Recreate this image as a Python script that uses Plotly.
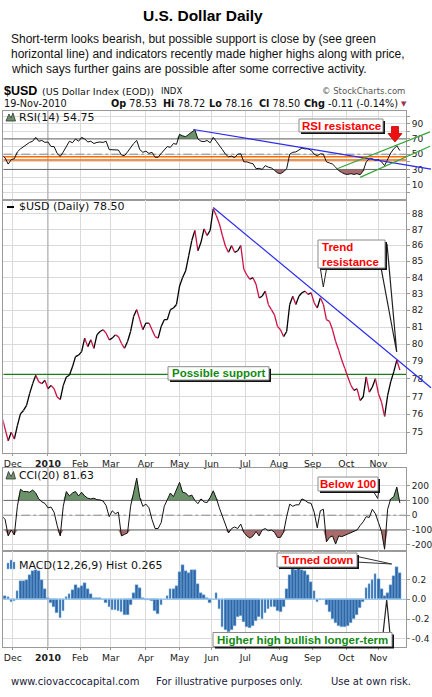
import numpy as np
import pandas as pd
import plotly.graph_objects as go

W, H = 432, 697

# ------------------------------------------------------------------ data
trading_days = pd.bdate_range("2009-11-19", "2010-11-19")
sample_dates = trading_days[1::2]          # every other trading day

usd_close = [
    75.83, 75.18, 74.54, 75.00, 74.63, 75.37, 76.02, 76.21, 76.49, 77.15,
    77.72, 78.20, 77.82, 77.72, 77.91, 77.43, 77.62, 77.43, 76.96, 76.82,
    77.62, 78.10, 78.20, 78.68, 79.27, 79.36, 79.56, 80.35, 79.85, 80.25,
    79.75, 80.54, 80.74, 80.84, 80.64, 80.25, 80.35, 80.54, 80.44, 80.05,
    79.75, 80.15, 80.74, 81.64, 82.04, 81.44, 80.84, 81.24, 81.24, 80.84,
    80.44, 80.35, 81.04, 81.44, 81.44, 82.04, 82.14, 82.35, 83.47, 83.99,
    84.40, 85.34, 86.29, 86.93, 85.65, 86.18, 87.03, 86.61, 86.93, 88.32,
    87.89, 87.36, 86.61, 85.93, 85.55, 85.97, 85.55, 85.65, 85.97, 84.50,
    84.14, 83.88, 83.98, 83.57, 82.75, 82.85, 83.16, 82.35, 82.04, 81.74,
    81.04, 80.84, 80.44, 80.74, 82.35, 82.85, 82.35, 82.85, 83.06, 83.16,
    82.96, 83.06, 82.45, 82.14, 82.75, 82.35, 81.44, 81.34, 80.84, 80.15,
    79.65, 79.07, 78.59, 78.10, 77.62, 77.34, 77.43, 76.77, 76.96, 78.10,
    77.24, 77.53, 78.00, 77.15, 76.68, 75.88, 77.05, 77.82, 78.39, 79.07,
    78.50,
]

rsi_14 = [
    49, 45, 37, 43, 44, 53, 57, 60, 63, 65.5,
    67, 72, 67, 68, 65.5, 66, 60, 60, 51, 47,
    53, 61, 67, 65, 70, 67, 72, 70, 66, 67,
    64, 65.5, 66, 65.5, 67, 56, 56, 56, 55.5, 49,
    48, 53, 59, 64, 68, 56, 52.5, 54, 51, 52.5,
    46, 46, 51, 56, 60, 59, 64, 63, 76, 74,
    73, 76, 79, 82, 70, 67, 66.5, 68, 65, 72,
    67, 62, 56, 50, 46.5, 47.5, 45.5, 50, 50.5, 40,
    40, 38.5, 37.5, 31, 31.5, 30, 35, 33, 32, 29,
    25.5, 24.5, 27, 31, 50, 52.5, 53, 55.5, 58, 57,
    57, 55, 50, 48, 50.5, 50, 40, 38.5, 37, 33,
    28.5, 26, 24, 23.5, 24.5, 23.5, 24.5, 23, 28, 40,
    44, 44, 42, 43, 40, 35, 44, 51.5, 57, 61,
    54.75,
]

cci_20 = [
    -5, -30, -140, -100, -134, 60, 175, 160, 160, 155,
    170, 150, 110, 90, 80, 50, 55, 20, -70, -140,
    60, 160, 130, 150, 160, 130, 155, 130, 115, 110,
    115, 105, 103, 96, 65, -10, 30, 10, 20, -140,
    -130, -120, 60, 150, 250, 120, 60, 75, 50, -30,
    -90, -90, -50, 60, 100, 150, 125, 170, 222, 155,
    150, 128, 136, 100, 78, 110, 90, 85, 120, 165,
    115, 50, -10, -70, -120, -90, -80, -90, -60, -115,
    -140, -155, -140, -110, -140, -100, -90, -105, -100, -115,
    -150, -150, -115, -10, 75, 60, 70, 70, 110, 100,
    85, 80, 20, -85, 30, 40, -180, -150, -140, -195,
    -140, -145, -135, -125, -115, -107, -100, -70, -45, -10,
    -15, 40, 10, -50, -110, -230, 40, 110, 125, 190,
    81.63,
]

macd_hist = [
    0.03, 0.034, 0.02, -0.024, -0.015, 0.08, 0.18, 0.185, 0.2, 0.25,
    0.285, 0.296, 0.29, 0.2, 0.1, 0.015, -0.04, -0.08, -0.14, -0.185,
    -0.12, 0.02, 0.05, 0.09, 0.14, 0.11, 0.13, 0.165, 0.1, 0.054,
    0.01, 0.01, 0.01, 0.003, -0.034, -0.08, -0.105, -0.108, -0.115, -0.13,
    -0.155, -0.16, -0.06, 0.06, 0.145, 0.11, 0.01, -0.01, -0.01, -0.02,
    -0.12, -0.145, -0.06, 0.004, 0.035, 0.1, 0.1, 0.13, 0.28, 0.345,
    0.29, 0.27, 0.3, 0.3, 0.15, 0.067, 0.04, 0.01, -0.04, 0.004,
    0.06, -0.1, -0.28, -0.31, -0.327, -0.31, -0.27, -0.18, -0.17, -0.23,
    -0.28, -0.29, -0.27, -0.22, -0.18, -0.2, -0.14, -0.095, -0.08, -0.08,
    -0.12, -0.13, -0.08, 0.1, 0.25, 0.31, 0.295, 0.303, 0.296, 0.285,
    0.25, 0.17, 0.08, -0.03, -0.005, 0.003, -0.06, -0.13, -0.2, -0.235,
    -0.265, -0.28, -0.28, -0.27, -0.24, -0.2, -0.158, -0.09, -0.03, 0.11,
    0.15, 0.2, 0.256, 0.21, 0.1, 0.03, 0.06, 0.145, 0.24, 0.33,
    0.265,
]

month_starts = ["2009-12-01", "2010-01-01", "2010-02-01", "2010-03-01",
                "2010-04-01", "2010-05-01", "2010-06-01", "2010-07-01",
                "2010-08-01", "2010-09-01", "2010-10-01", "2010-11-01"]
month_labels = ["Dec", "<b>2010</b>", "Feb", "Mar", "Apr", "May", "Jun",
                "Jul", "Aug", "Sep", "Oct", "Nov"]
price_ticks = list(range(75, 89))
rsi_ticks = list(range(0, 101, 10))
rsi_tick_labels = [str(v) if v in (10, 30, 50, 70, 90) else "" for v in rsi_ticks]
cci_ticks = [-200, -100, 0, 100, 200]
macd_ticks = [-0.4, -0.2, 0.0, 0.2]
macd_tick_labels = ["-0.4", "-0.2", "0.0", "0.2"]

support_level = 78.25
rsi_orange_levels = [46.6, 42.3]
price_trend = [("2010-06-02", 88.4), ("2010-11-19", 78.96)]
rsi_down_trend = [("2010-05-14", 82.4), ("2010-11-19", 37.2)]
rsi_channel_top = [("2010-09-23", 31.0), ("2010-11-19", 63.6)]
rsi_channel_bottom = [("2010-10-14", 19.6), ("2010-11-19", 42.8)]

# ------------------------------------------------------------------ layout geometry
LIB = "Liberation Sans, Arial, sans-serif"
DEJ = "DejaVu Sans, Verdana, sans-serif"
GRID = "#dadada"
BORDER = "#9a9a9a"
UP_COL = "#000000"
DN_COL = "#cc1144"
G_FILL = "#6a936a"
B_FILL = "#a86a6a"


def px(x):
    return x / W


def py(y):
    return 1 - y / H


X_RANGE = [1.8, 265.0]
X_DOM = [px(3.3), px(406)]
D_RSI = [py(199.5), py(110.5)]
D_PRICE = [py(453), py(199.5)]
D_CCI = [py(551), py(467.7)]
D_MACD = [py(646.7), py(551)]
R_RSI = [-9.4, 107.3]
R_PRICE = [1.8685, 1.9490]
R_CCI = [-242, 321]
R_MACD = [-0.479, 0.488]


def day_index(d):
    return int(trading_days.searchsorted(pd.Timestamp(d)))


x_idx = trading_days.get_indexer(sample_dates)
month_idx = [day_index(d) for d in month_starts]
jan_idx = day_index("2010-01-01")

fig = go.Figure()


def hline(level, xa, ya, color, width=1, dash="solid"):
    fig.add_trace(go.Scatter(x=X_RANGE, y=[level, level], mode="lines",
                             line=dict(color=color, width=width, dash=dash),
                             xaxis=xa, yaxis=ya, hoverinfo="skip", showlegend=False))


def jan_line(xa, ya, lo, hi):
    fig.add_trace(go.Scatter(x=[jan_idx, jan_idx], y=[lo, hi], mode="lines",
                             line=dict(color="#a8a8a8", width=1),
                             xaxis=xa, yaxis=ya, hoverinfo="skip", showlegend=False))


def band_fill(values, level, above, color, xa, ya):
    v = np.array(values, dtype=float)
    clipped = np.maximum(v, level) if above else np.minimum(v, level)
    fig.add_trace(go.Scatter(x=x_idx, y=[level] * len(v), mode="lines",
                             line=dict(width=0), xaxis=xa, yaxis=ya,
                             hoverinfo="skip", showlegend=False))
    fig.add_trace(go.Scatter(x=x_idx, y=clipped, mode="lines", fill="tonexty",
                             fillcolor=color, line=dict(width=0), xaxis=xa, yaxis=ya,
                             hoverinfo="skip", showlegend=False))


# ---------------- RSI panel
jan_line("x", "y", R_RSI[0], R_RSI[1])
band_fill(rsi_14, 70, True, G_FILL, "x", "y")
band_fill(rsi_14, 30, False, B_FILL, "x", "y")
hline(70, "x", "y", "#6a6a6a")
hline(30, "x", "y", "#6a6a6a")
hline(50, "x", "y", "#8a8a8a", 1, "dashdot")
for lv in rsi_orange_levels:
    hline(lv, "x", "y", "#ff6a00", 1.6)
fig.add_trace(go.Scatter(x=x_idx, y=rsi_14, mode="lines", line=dict(color="#111", width=1),
                         xaxis="x", yaxis="y", hoverinfo="skip", showlegend=False))

# ---------------- price panel
jan_line("x2", "y2", 10 ** R_PRICE[0], 10 ** R_PRICE[1])
hline(support_level, "x2", "y2", "#1a7d1a", 1.2)
up_x, up_y, dn_x, dn_y = [], [], [], []
for j in range(1, len(usd_close)):
    seg_x = [x_idx[j - 1], x_idx[j], None]
    seg_y = [usd_close[j - 1], usd_close[j], None]
    if usd_close[j] >= usd_close[j - 1]:
        up_x += seg_x
        up_y += seg_y
    else:
        dn_x += seg_x
        dn_y += seg_y
fig.add_trace(go.Scatter(x=up_x, y=up_y, mode="lines", line=dict(color=UP_COL, width=1.3),
                         xaxis="x2", yaxis="y2", hoverinfo="skip", showlegend=False))
fig.add_trace(go.Scatter(x=dn_x, y=dn_y, mode="lines", line=dict(color=DN_COL, width=1.3),
                         xaxis="x2", yaxis="y2", hoverinfo="skip", showlegend=False))

# ---------------- CCI panel
jan_line("x3", "y3", R_CCI[0], R_CCI[1])
band_fill(cci_20, 100, True, G_FILL, "x3", "y3")
band_fill(cci_20, -100, False, B_FILL, "x3", "y3")
hline(100, "x3", "y3", "#6a6a6a")
hline(-100, "x3", "y3", "#6a6a6a")
hline(0, "x3", "y3", "#8a8a8a", 1, "dashdot")
fig.add_trace(go.Scatter(x=x_idx, y=cci_20, mode="lines", line=dict(color="#111", width=1),
                         xaxis="x3", yaxis="y3", hoverinfo="skip", showlegend=False))

# ---------------- MACD histogram panel
jan_line("x4", "y4", R_MACD[0], R_MACD[1])
hline(0, "x4", "y4", "#8fc3ef", 1)
fig.add_trace(go.Bar(x=x_idx, y=macd_hist, width=1.8,
                     marker=dict(color="#2f67a6", line=dict(color="#8fc3ef", width=0.5)),
                     xaxis="x4", yaxis="y4", hoverinfo="skip", showlegend=False))

# ------------------------------------------------------------------ axes
TICKFONT = dict(family=DEJ, size=9, color="#222")


def xaxis(labels, anchor):
    return dict(domain=X_DOM, range=X_RANGE, anchor=anchor, tickmode="array",
                tickvals=month_idx, ticktext=month_labels, showticklabels=labels,
                ticks="outside" if labels else "", ticklen=2, tickcolor="#999",
                showgrid=True, gridcolor=GRID, gridwidth=1, showline=True, mirror=True,
                linecolor=BORDER, zeroline=False, fixedrange=True,
                tickfont=dict(family=DEJ, size=9.3, color="#222"))


def yaxis(dom, rng, anchor, tickvals, ticktext=None, log=False):
    d = dict(domain=dom, range=rng, anchor=anchor, side="right", tickmode="array",
             tickvals=tickvals, ticks="outside", ticklen=3, tickcolor="#999",
             showgrid=True, gridcolor=GRID, gridwidth=1, showline=True, mirror=True,
             linecolor=BORDER, zeroline=False, fixedrange=True, tickfont=TICKFONT)
    if ticktext is not None:
        d["ticktext"] = ticktext
    if log:
        d["type"] = "log"
    return d


layout_axes = dict(
    xaxis=xaxis(False, "y"),
    xaxis2=xaxis(True, "y2"),
    xaxis3=xaxis(False, "y3"),
    xaxis4=xaxis(True, "y4"),
    yaxis=yaxis(D_RSI, R_RSI, "x", rsi_ticks, rsi_tick_labels),
    yaxis2=yaxis(D_PRICE, R_PRICE, "x2", price_ticks, [str(v) for v in price_ticks], log=True),
    yaxis3=yaxis(D_CCI, R_CCI, "x3", cci_ticks, [str(v) for v in cci_ticks]),
    yaxis4=yaxis(D_MACD, R_MACD, "x4", macd_ticks, macd_tick_labels),
)

# ------------------------------------------------------------------ trend lines (paper)


def to_paper(i, v, dom, rng, log=False):
    fx = X_DOM[0] + (i - X_RANGE[0]) / (X_RANGE[1] - X_RANGE[0]) * (X_DOM[1] - X_DOM[0])
    vv = np.log10(v) if log else v
    fy = dom[0] + (vv - rng[0]) / (rng[1] - rng[0]) * (dom[1] - dom[0])
    return fx, fy


shapes = []


def trend(anchors, dom, rng, color, log=False, x_end=431):
    (d0, v0), (d1, v1) = anchors
    x0, y0 = to_paper(day_index(d0), v0, dom, rng, log)
    x1, y1 = to_paper(day_index(d1), v1, dom, rng, log)
    xe = px(x_end)
    ye = y0 + (y1 - y0) * (xe - x0) / (x1 - x0)
    shapes.append(dict(type="line", xref="paper", yref="paper", x0=x0, y0=y0, x1=xe, y1=ye,
                       line=dict(color=color, width=1.2), layer="above"))


trend(price_trend, D_PRICE, R_PRICE, "#2b2bee", log=True)
trend(rsi_down_trend, D_RSI, R_RSI, "#2b2bee")
trend(rsi_channel_top, D_RSI, R_RSI, "#3aa33a", x_end=430)
trend(rsi_channel_bottom, D_RSI, R_RSI, "#3aa33a", x_end=430)


def path(points):
    return "M " + " L ".join(f"{px(x):.5f},{py(y):.5f}" for x, y in points) + " Z"


def poly(points, fill, line="#222", width=1):
    shapes.append(dict(type="path", xref="paper", yref="paper", path=path(points),
                       fillcolor=fill, line=dict(color=line, width=width), layer="above"))


annotations = []


def text(x, y, t, family=DEJ, size=10, color="#111", anchor="left"):
    annotations.append(dict(x=px(x), y=py(y), xref="paper", yref="paper", text=t,
                            showarrow=False, xanchor=anchor, yanchor="middle",
                            font=dict(family=family, size=size, color=color), borderpad=0))


def callout(t, box, color, align="center"):
    x0, y0, x1, y1 = box
    shapes.append(dict(type="rect", xref="paper", yref="paper", x0=px(x0 + 2), x1=px(x1 + 2),
                       y0=py(y1 + 2), y1=py(y0 + 2), fillcolor="#111", line=dict(width=0),
                       layer="above"))
    shapes.append(dict(type="rect", xref="paper", yref="paper", x0=px(x0), x1=px(x1),
                       y0=py(y1), y1=py(y0), fillcolor="white",
                       line=dict(color="#8a8a8a", width=1), layer="above"))
    if align == "center":
        text((x0 + x1) / 2, (y0 + y1) / 2, f"<b>{t}</b>", LIB, 11.5, color, "center")
    else:
        annotations.append(dict(x=px(x0 + 2), y=py((y0 + y1) / 2), xref="paper", yref="paper",
                                text=f"<b>{t}</b>", showarrow=False, xanchor="left",
                                yanchor="middle", align="left",
                                font=dict(family=LIB, size=11.5, color=color)))


# pointers (drawn before boxes so boxes sit on top)
poly([(320, 266), (327, 266), (323.3, 287)], "white", "#222", 1)
poly([(380, 262), (387, 244), (396.7, 352)], "white", "#222", 1.2)
poly([(372, 489), (379, 489), (377.7, 498.5)], "white", "#222", 1)
poly([(355, 556), (355, 562), (391.7, 564)], "white", "#333", 1)
poly([(383, 634), (390, 634), (386.7, 600)], "white", "#222", 1.2)

callout("RSI resistance", (299, 119, 383, 132), "#ff0000")
callout("Trend<br>resistance", (318, 240, 385, 268), "#ff0000", align="left")
callout("Possible support", (168, 366.7, 269, 380), "#128a12")
callout("Below 100", (318, 477, 378, 491), "#ff0000")
callout("Turned down", (277, 553, 357, 567), "#ff0000")
callout("Higher high bullish longer-term", (213, 632.5, 392, 646.5), "#128a12")

# red arrow in RSI panel
poly([(391.5, 126.5), (398.5, 126.5), (398.5, 133.5), (402, 133.5), (395, 142),
      (388, 133.5), (391.5, 133.5)], "#ee1111", "#cc0000", 0.8)

# panel legend icons
poly([(6, 121), (9, 114), (11, 118), (13, 113), (15.5, 121)], G_FILL, "#333", 0.8)
poly([(6, 479), (8.5, 471.5), (11, 476.5), (13.5, 471.5), (15.5, 479)], G_FILL, "#333", 0.8)
shapes.append(dict(type="line", xref="paper", yref="paper", x0=px(7), x1=px(14),
                   y0=py(207), y1=py(207), line=dict(color="#000", width=2)))
for bx, bh in [(7, 6), (10, 9), (13, 7)]:
    shapes.append(dict(type="rect", xref="paper", yref="paper", x0=px(bx), x1=px(bx + 2),
                       y0=py(569), y1=py(569 - bh), fillcolor="#2f67a6",
                       line=dict(color="#8fc3ef", width=0.5)))

# ------------------------------------------------------------------ texts
text(203, 16, "<b>U.S. Dollar Daily</b>", LIB, 15.5, "#000", "center")
text(10, 39, "Short-term looks bearish, but possible support is close by (see green", LIB, 12, "#111")
text(10, 54, "horizontal line) and indicators recently made higher highs along with price,", LIB, 12, "#111")
text(10, 69, "which says further gains are possible after some corrective activity.", LIB, 12, "#111")

text(3, 91, "<b>$USD</b>", LIB, 12.5, "#000")
text(40.5, 91, "(US Dollar Index (EOD))", DEJ, 9.5, "#111")
text(159.5, 91, "INDX", DEJ, 8.5, "#111")
text(406, 91, "© StockCharts.com", DEJ, 8.5, "#555", "right")

text(3, 104, "19-Nov-2010", DEJ, 9.7, "#111")
text(110, 104, "<b>Op</b> 78.53", DEJ, 9.7, "#111")
text(161.5, 104, "<b>Hi</b> 78.72", DEJ, 9.7, "#111")
text(208.3, 104, "<b>Lo</b> 78.16", DEJ, 9.7, "#111")
text(258.3, 104, "<b>Cl</b> 78.50", DEJ, 9.7, "#111")
text(303.3, 104, "<b>Chg</b> -0.11 (-0.14%)", DEJ, 9.7, "#111")
text(404, 104.5, "▼", DEJ, 7, "#993355", "center")

text(18, 117.3, "RSI(14) 54.75", DEJ, 11, "#111")
text(18, 206.7, "$USD (Daily) 78.50", DEJ, 11, "#111")
text(18, 475.3, "CCI(20) 81.63", DEJ, 10.8, "#111")
text(18, 565, "MACD(12,26,9) Hist 0.265", DEJ, 11, "#111")

text(10, 681, "www.ciovaccocapital.com", DEJ, 10, "#1a1a3a")
text(155, 681, "For illustrative purposes only.", DEJ, 10, "#1a1a3a")
text(330, 681, "Use at own risk.", DEJ, 10, "#1a1a3a")

fig.update_layout(
    width=W, height=H, margin=dict(l=0, r=0, t=0, b=0, pad=0),
    paper_bgcolor="white", plot_bgcolor="rgba(0,0,0,0)", showlegend=False,
    shapes=shapes, annotations=annotations, bargap=0,
    **layout_axes,
)

fig.write_html("out.html", include_plotlyjs=True, config={"displayModeBar": False})
